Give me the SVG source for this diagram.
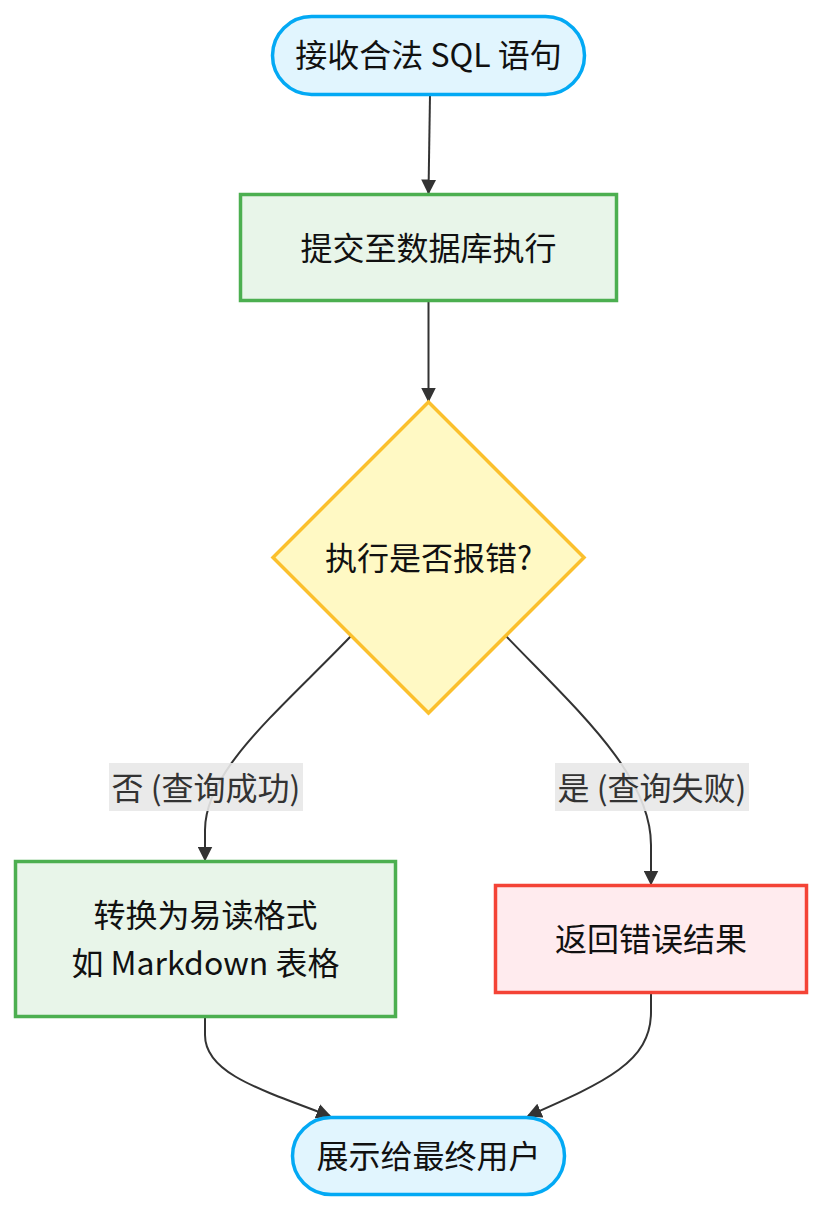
<svg xmlns="http://www.w3.org/2000/svg" width="823" height="1211" viewBox="0 0 823 1211">
<defs>
<marker id="arrow" viewBox="0 0 10 10" refX="9" refY="5" markerUnits="userSpaceOnUse" markerWidth="15" markerHeight="15" orient="auto">
<path d="M0,0 L10,5 L0,10 z" fill="#333333"/>
</marker>
<style>
.t{font-family:"Noto Sans CJK SC","Noto Sans",sans-serif;font-size:32px;fill:#111;text-anchor:middle;dominant-baseline:central}
.lt{font-family:"Noto Sans CJK SC","Noto Sans",sans-serif;font-size:32px;fill:#333;text-anchor:middle;dominant-baseline:central}
.term{fill:#e1f5fe;stroke:#03a9f4;stroke-width:3.5}
.proc{fill:#e8f5e9;stroke:#4caf50;stroke-width:3.5}
.err{fill:#ffebee;stroke:#f44336;stroke-width:3.5}
.dec{fill:#fff9c4;stroke:#fbc02d;stroke-width:3.5}
.edge{fill:none;stroke:#333333;stroke-width:2;marker-end:url(#arrow)}
.lbg{fill:#e8e8e8;opacity:0.9}
</style>
</defs>
<rect width="823" height="1211" fill="#ffffff"/>
<g id="connectors">
<path class="edge" d="M430,95 L428.5,193"/>
<path class="edge" d="M428.5,302 L428.5,401"/>
<path class="edge" d="M351,636 C280,710 205,770 205,830 L205,860"/>
<path class="edge" d="M506,636 C577,710 651,775 651,845 L651,884"/>
<path class="edge" d="M205,1017 L205,1035 C205,1072 255,1088 330,1116"/>
<path class="edge" d="M651,993 L651,1012 C651,1062 605,1082 528,1116"/>
</g>
<g id="label-no">
<rect class="lbg" x="109" y="763" width="194" height="48"/>
<text class="lt" x="206" y="786">否 (查询成功)</text>
</g>
<g id="label-yes">
<rect class="lbg" x="555" y="763" width="194" height="48"/>
<text class="lt" x="652" y="786">是 (查询失败)</text>
</g>
<g id="start">
<rect class="term" x="272.5" y="16.5" width="312" height="78" rx="39"/>
<text class="t" x="428.5" y="53">接收合法 SQL 语句</text>
</g>
<g id="submit">
<rect class="proc" x="240.5" y="194.5" width="376" height="106"/>
<text class="t" x="428.5" y="246">提交至数据库执行</text>
</g>
<g id="decision">
<polygon class="dec" points="428.5,402 584,557.5 428.5,713 273,557.5"/>
<text class="t" x="428.5" y="556">执行是否报错?</text>
</g>
<g id="format">
<rect class="proc" x="15.5" y="861.5" width="380" height="155"/>
<text class="t" x="205.5" y="913">转换为易读格式</text>
<text class="t" x="205.5" y="961">如 Markdown 表格</text>
</g>
<g id="error">
<rect class="err" x="495.5" y="885.5" width="311" height="107"/>
<text class="t" x="651" y="937">返回错误结果</text>
</g>
<g id="end">
<rect class="term" x="292.5" y="1117.5" width="272" height="77" rx="38.5"/>
<text class="t" x="428.5" y="1154">展示给最终用户</text>
</g>
</svg>
